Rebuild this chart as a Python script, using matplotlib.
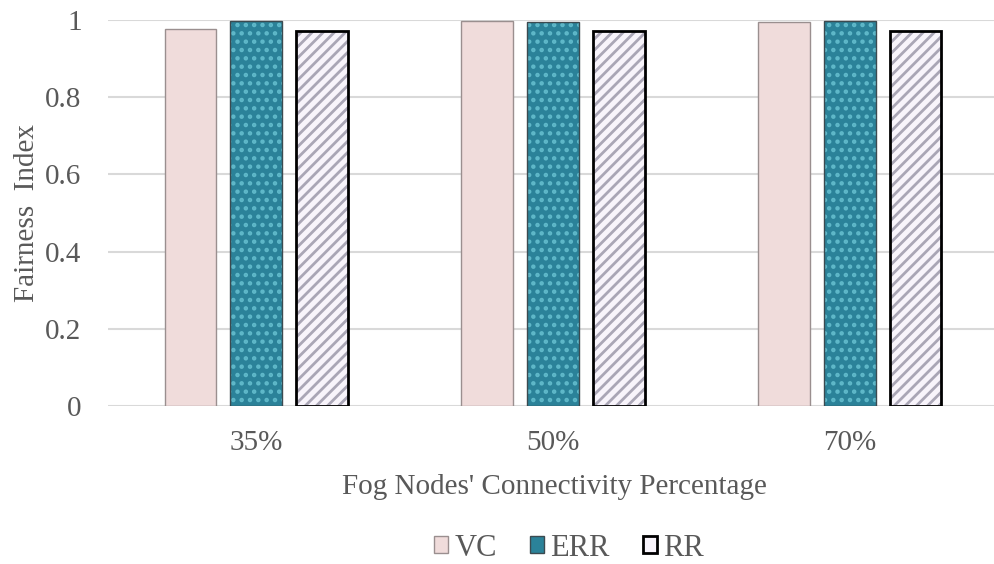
import numpy as np
import matplotlib.pyplot as plt
from matplotlib.patches import Patch

categories = ['35%', '50%', '70%']
series = ['VC', 'ERR', 'RR']
vc = [0.977, 0.997, 0.995]
err = [0.997, 0.995, 0.997]
rr = [0.971, 0.971, 0.971]
yticks = [0, 0.2, 0.4, 0.6, 0.8, 1]

plt.rcParams['font.family'] = ['Liberation Serif', 'DejaVu Serif']
plt.rcParams['hatch.linewidth'] = 2.0
txt = '#595959'

fig = plt.figure(figsize=(9.95, 5.64), dpi=100)
ax = fig.add_axes([108 / 995, 1 - 406 / 564, 1 - 108 / 995, 386 / 564])

x = np.arange(len(categories))
w = 0.175
step = 0.222

# VC - plain pink
ax.bar(x - step, vc, w, color='#f0dcdb', edgecolor='#9a8f8f', linewidth=1, zorder=3)
# ERR - teal with dots
ax.bar(x, err, w, color='#2b8299', edgecolor='#5fb8c9', hatch='..', linewidth=0, zorder=3)
ax.bar(x, err, w, fill=False, edgecolor='#3c4a50', linewidth=1, zorder=4)
# RR - light with diagonal stripes
ax.bar(x + step, rr, w, color='#f8f4fb', edgecolor='#aaa6b6', hatch='///', linewidth=0, zorder=3)
ax.bar(x + step, rr, w, fill=False, edgecolor='black', linewidth=2, zorder=4)

ax.set_xlim(-0.5, 2.49)
ax.set_ylim(0, 1)
ax.set_yticks(yticks)
ax.set_yticklabels([f'{t:g}' for t in yticks])
ax.set_xticks(x)
ax.set_xticklabels(categories)
ax.tick_params(length=0, labelsize=21, colors=txt)
ax.tick_params(axis='x', pad=17)
ax.tick_params(axis='y', pad=19)
ax.grid(axis='y', color='#d9d9d9', linewidth=1.5, zorder=0)
for s in ax.spines.values():
    s.set_visible(False)

ax.set_ylabel('Fairness  Index', fontsize=21, color=txt)
ax.yaxis.set_label_coords((40 - 108) / 887, 0.5)
fig.text(554 / 995, 1 - 487 / 564, "Fog Nodes' Connectivity Percentage",
         fontsize=21, color=txt, ha='center', va='center')

handles = [
    Patch(facecolor='#f0dcdb', edgecolor='#9a8f8f', linewidth=1),
    Patch(facecolor='#2b8299', edgecolor='#3c4a50', linewidth=1),
    Patch(facecolor='#f8f4fb', edgecolor='black', linewidth=2),
]
leg = fig.legend(handles, series, loc='center', bbox_to_anchor=(569 / 995, 1 - 548 / 564),
                 ncol=3, frameon=False, fontsize=22, handlelength=0.45, handleheight=0.45,
                 handletextpad=0.2, columnspacing=1.1)
for t in leg.get_texts():
    t.set_color(txt)

fig.savefig('out.png', dpi=100)
